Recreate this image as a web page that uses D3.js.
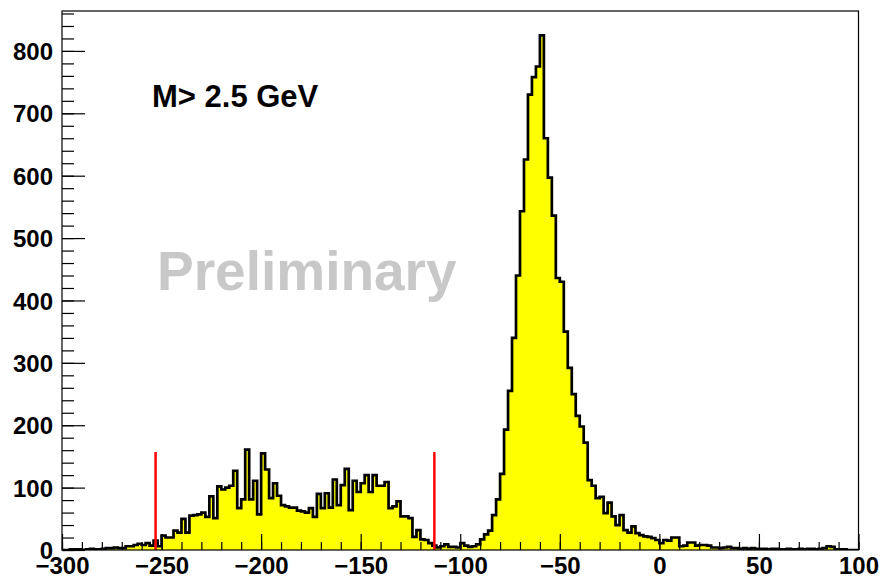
<!DOCTYPE html>
<html>
<head>
<meta charset="utf-8">
<script src="https://cdn.jsdelivr.net/npm/d3@7"></script>
<style>
  html, body { margin: 0; padding: 0; background: #fff; }
  svg { display: block; }
  text { font-family: "Liberation Sans", Arial, Helvetica, sans-serif; font-weight: bold; }
</style>
</head>
<body>
<svg id="chart" width="880" height="578"></svg>
<script>
// ---- data ----
const xLow = -300;
const xHigh = 100;
const binWidth = 2;
const counts = [
  0, 0, 1, 1, 1, 0, 1, 2, 1, 1,
  2, 3, 3, 4, 3, 3, 6, 6, 8, 10,
  8, 11, 7, 15, 6, 23, 20, 20, 31, 28,
  50, 28, 55, 56, 57, 60, 53, 86, 51, 102,
  97, 100, 103, 127, 67, 81, 161, 81, 111, 57,
  155, 129, 83, 107, 87, 72, 70, 68, 68, 63,
  62, 60, 67, 53, 90, 67, 91, 68, 113, 72,
  104, 130, 64, 111, 93, 107, 120, 93, 120, 103,
  103, 109, 67, 70, 78, 54, 54, 51, 21, 32,
  17, 16, 11, 7, 4, 6, 9, 5, 5, 4,
  11, 7, 5, 6, 9, 17, 25, 31, 56, 81,
  122, 193, 255, 340, 440, 543, 626, 730, 758, 775,
  825, 660, 597, 536, 436, 430, 350, 292, 250, 215,
  198, 172, 112, 103, 83, 85, 59, 76, 54, 40,
  56, 32, 28, 38, 27, 24, 22, 21, 19, 16,
  11, 16, 15, 20, 20, 6, 7, 12, 12, 7,
  8, 8, 7, 4, 4, 3, 4, 5, 3, 3,
  2, 3, 2, 3, 2, 2, 2, 1, 2, 2,
  1, 1, 2, 1, 1, 2, 1, 2, 2, 1,
  2, 3, 6, 5, 1, 1, 1, 0, 0, 0
];
const yMax = 864;
const xMajorTicks = [-300, -250, -200, -150, -100, -50, 0, 50, 100];
const xMinorTicks = d3.range(-300, 101, 10);
const yMajorTicks = [0, 100, 200, 300, 400, 500, 600, 700, 800];
const yMinorTicks = d3.range(0, 861, 20);
const cutLines = [-253, -113];
const cutHeight = 157;
const labelText = "M> 2.5 GeV";
const watermark = "Preliminary";

// ---- layout ----
const frame = { left: 62, right: 858.5, top: 11, bottom: 550 };
const svg = d3.select("#chart");

const x = d3.scaleLinear().domain([xLow, xHigh]).range([frame.left, frame.right]);
const y = d3.scaleLinear().domain([0, yMax]).range([frame.bottom, frame.top]);

const pts = counts.map((c, i) => ({ x: xLow + i * binWidth, c }));
pts.push({ x: xHigh, c: counts[counts.length - 1] });

svg.append("clipPath").attr("id", "clip")
  .append("rect")
  .attr("x", frame.left).attr("y", frame.top)
  .attr("width", frame.right - frame.left).attr("height", frame.bottom - frame.top);

const g = svg.append("g").attr("clip-path", "url(#clip)");

const area = d3.area().curve(d3.curveStepAfter)
  .x(d => x(d.x)).y0(y(0)).y1(d => y(d.c));
const line = d3.line().curve(d3.curveStepAfter)
  .x(d => x(d.x)).y(d => y(d.c));

g.append("path").datum(pts).attr("d", area).attr("fill", "#ffff00").attr("stroke", "none");
g.append("path").datum(pts).attr("d", line).attr("fill", "none")
  .attr("stroke", "#000").attr("stroke-width", 2.7).attr("stroke-linejoin", "miter");

// cut lines
svg.selectAll(".cut").data(cutLines).enter().append("line")
  .attr("x1", d => x(d)).attr("x2", d => x(d))
  .attr("y1", y(0)).attr("y2", y(cutHeight))
  .attr("stroke", "#ff0000").attr("stroke-width", 2.5);

// frame
svg.append("rect")
  .attr("x", frame.left).attr("y", frame.top)
  .attr("width", frame.right - frame.left).attr("height", frame.bottom - frame.top)
  .attr("fill", "none").attr("stroke", "#000").attr("stroke-width", 1.2);

// x axis
const xMinor = svg.append("g").attr("transform", `translate(0,${frame.bottom})`)
  .call(d3.axisBottom(x).tickValues(xMinorTicks).tickSize(-8).tickFormat(""));
xMinor.select(".domain").remove();
const xAxis = svg.append("g").attr("transform", `translate(0,${frame.bottom})`)
  .call(d3.axisBottom(x).tickValues(xMajorTicks).tickSize(-16).tickFormat(d3.format("d")));
xAxis.select(".domain").remove();
xAxis.selectAll("text").attr("y", 24).attr("dy", null)
  .attr("font-size", 24).attr("fill", "#000")
  .style("font-family", "'Liberation Sans', Arial, sans-serif").style("font-weight", "bold");

// y axis
const yMinor = svg.append("g").attr("transform", `translate(${frame.left},0)`)
  .call(d3.axisLeft(y).tickValues(yMinorTicks).tickSize(-12).tickFormat(""));
yMinor.select(".domain").remove();
const yAxis = svg.append("g").attr("transform", `translate(${frame.left},0)`)
  .call(d3.axisLeft(y).tickValues(yMajorTicks).tickSize(-23).tickPadding(9).tickFormat(d3.format("d")));
yAxis.select(".domain").remove();
yAxis.selectAll("text").attr("font-size", 24).attr("fill", "#000").attr("dy", "0.36em")
  .style("font-family", "'Liberation Sans', Arial, sans-serif").style("font-weight", "bold");
svg.selectAll(".tick line").attr("stroke", "#000").attr("stroke-width", 1.2);

// texts
svg.append("text").attr("x", 152).attr("y", 107)
  .attr("font-size", 31).attr("fill", "#000").text(labelText);
svg.append("text").attr("x", 157).attr("y", 290)
  .attr("font-size", 55).attr("fill", "#c8c8c8").text(watermark);
</script>
</body>
</html>
